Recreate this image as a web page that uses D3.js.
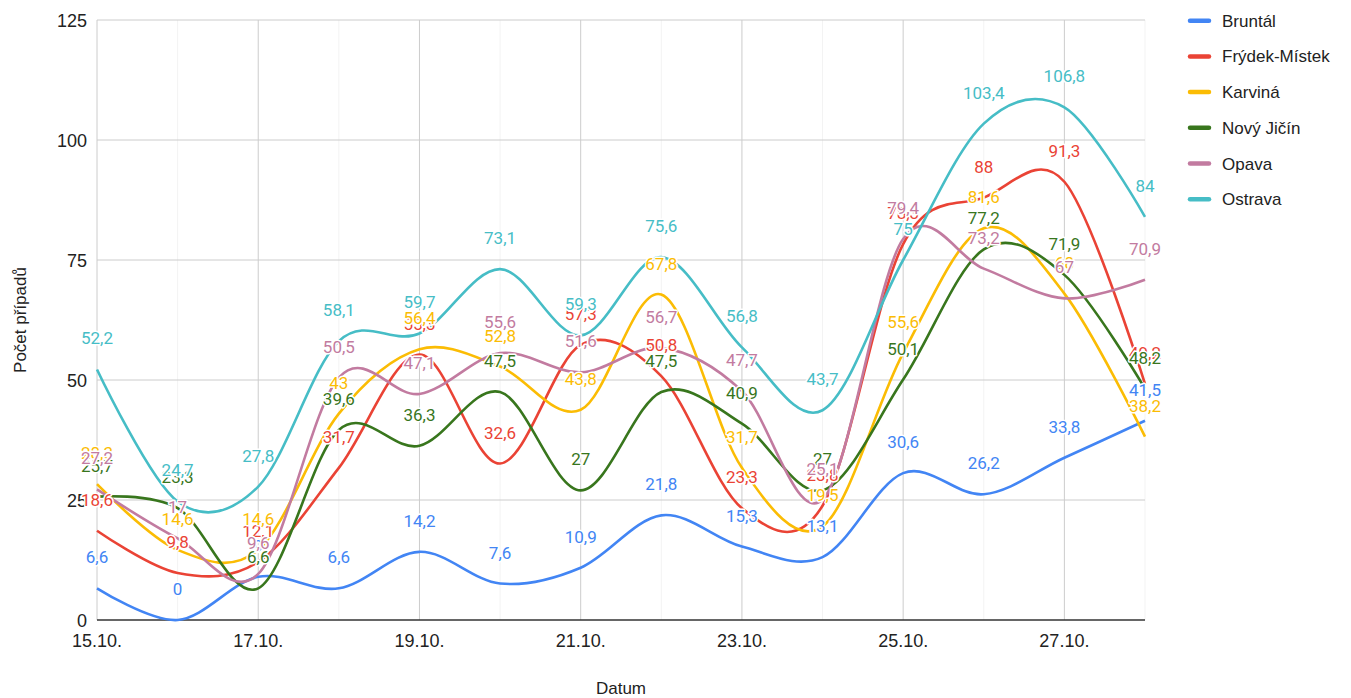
<!DOCTYPE html>
<html lang="cs">
<head>
  <meta charset="UTF-8" />
  <title>Počet případů podle okresů</title>
  <script src="https://d3js.org/d3.v7.min.js"></script>
  <style>
    body {
      margin: 0;
      background-color: #fff;
    }

    svg {
      display: block;
    }

    .axis-text {
      font-family: "Liberation Sans", Arial, sans-serif;
      fill: #222;
    }

    .value-label {
      font-family: Roboto, "Noto Sans", sans-serif;
      font-size: 17px;
      text-anchor: middle;
      stroke: #fff;
      stroke-width: 3px;
      stroke-linejoin: round;
      paint-order: stroke;
    }
  </style>
</head>
<body>

<svg id="chart" width="1351" height="698"></svg>

<script>
  // data
  const dates = ["15.10.", "16.10.", "17.10.", "18.10.", "19.10.", "20.10.", "21.10.",
                 "22.10.", "23.10.", "24.10.", "25.10.", "26.10.", "27.10.", "28.10."];

  const bruntal  = [6.6, 0, 9, 6.6, 14.2, 7.6, 10.9, 21.8, 15.3, 13.1, 30.6, 26.2, 33.8, 41.5];
  const frydek   = [18.6, 9.8, 12.1, 31.7, 55.3, 32.6, 57.3, 50.8, 23.3, 23.8, 78.3, 88, 91.3, 49.2];
  const karvina  = [28.3, 14.6, 14.6, 43, 56.4, 52.8, 43.8, 67.8, 31.7, 19.5, 55.6, 81.6, 68, 38.2];
  const novyJicin = [25.7, 23.3, 6.6, 39.6, 36.3, 47.5, 27, 47.5, 40.9, 27, 50.1, 77.2, 71.9, 48.2];
  const opava    = [27.2, 17, 9.6, 50.5, 47.1, 55.6, 51.6, 56.7, 47.7, 25.1, 79.4, 73.2, 67, 70.9];
  const ostrava  = [52.2, 24.7, 27.8, 58.1, 59.7, 73.1, 59.3, 75.6, 56.8, 43.7, 75, 103.4, 106.8, 84];

  const seriesNames = ["Bruntál", "Frýdek-Místek", "Karviná", "Nový Jičín", "Opava", "Ostrava"];
  const seriesColors = ["#4285f4", "#ea4335", "#fbbc04", "#38761d", "#c27ba0", "#46bdc6"];
  const seriesValues = [bruntal, frydek, karvina, novyJicin, opava, ostrava];

  const yTicks = [0, 25, 50, 75, 100, 125];

  const svg = d3.select("#chart");

  const margin = { left: 97, right: 1145, top: 20, bottom: 620 };

  const x = d3.scalePoint()
    .domain(dates)
    .range([margin.left, margin.right]);

  const y = d3.scaleLinear()
    .domain([0, 125])
    .range([margin.bottom, margin.top]);

  const series = seriesNames.map((name, i) => ({
    name: name,
    color: seriesColors[i],
    values: seriesValues[i].map((v, j) => ({ date: dates[j], value: v }))
  }));

  const fmt = v => String(v).replace(".", ",");

  // grid
  const grid = svg.append("g").attr("class", "grid");

  grid.selectAll("line.minor")
    .data(dates.filter((d, i) => i % 2 === 1))
    .enter().append("line")
    .attr("class", "minor")
    .attr("x1", d => x(d)).attr("x2", d => x(d))
    .attr("y1", margin.top).attr("y2", margin.bottom)
    .style("stroke", "#f3f3f3")
    .style("stroke-width", 1);

  grid.selectAll("line.major")
    .data(dates.filter((d, i) => i % 2 === 0))
    .enter().append("line")
    .attr("class", "major")
    .attr("x1", d => x(d)).attr("x2", d => x(d))
    .attr("y1", margin.top).attr("y2", margin.bottom)
    .style("stroke", "#cccccc")
    .style("stroke-width", 1);

  grid.selectAll("line.h")
    .data(yTicks.filter(t => t > 0))
    .enter().append("line")
    .attr("class", "h")
    .attr("x1", margin.left).attr("x2", margin.right)
    .attr("y1", d => y(d)).attr("y2", d => y(d))
    .style("stroke", "#cccccc")
    .style("stroke-width", 1);

  // baseline
  svg.append("line")
    .attr("x1", margin.left).attr("x2", margin.right)
    .attr("y1", y(0)).attr("y2", y(0))
    .style("stroke", "#333")
    .style("stroke-width", 1.5);

  // y tick labels
  svg.append("g")
    .selectAll("text")
    .data(yTicks)
    .enter().append("text")
    .attr("class", "axis-text")
    .attr("x", margin.left - 10)
    .attr("y", d => y(d) + 6.5)
    .attr("text-anchor", "end")
    .style("font-size", "18px")
    .text(d => d);

  // x tick labels
  svg.append("g")
    .selectAll("text")
    .data(dates.filter((d, i) => i % 2 === 0))
    .enter().append("text")
    .attr("class", "axis-text")
    .attr("x", d => x(d))
    .attr("y", 647)
    .attr("text-anchor", "middle")
    .style("font-size", "18px")
    .text(d => d);

  // axis titles
  svg.append("text")
    .attr("class", "axis-text")
    .attr("x", (margin.left + margin.right) / 2)
    .attr("y", 694)
    .attr("text-anchor", "middle")
    .style("font-size", "17px")
    .text("Datum");

  svg.append("text")
    .attr("class", "axis-text")
    .attr("transform", "translate(26," + (margin.top + margin.bottom) / 2 + ") rotate(-90)")
    .attr("text-anchor", "middle")
    .style("font-size", "17px")
    .text("Počet případů");

  // lines
  const line = d3.line()
    .x(d => x(d.date))
    .y(d => y(d.value))
    .curve(d3.curveCardinal.tension(0));

  svg.append("g")
    .selectAll("path")
    .data(series)
    .enter().append("path")
    .attr("d", d => line(d.values))
    .style("fill", "none")
    .style("stroke", d => d.color)
    .style("stroke-width", 2.6);

  // value labels, later series drawn on top
  series.forEach(s => {
    svg.append("g")
      .selectAll("text")
      .data(s.values)
      .enter().append("text")
      .attr("class", "value-label")
      .attr("x", d => x(d.date))
      .attr("y", d => y(d.value) - 25)
      .style("fill", s.color)
      .text(d => fmt(d.value));
  });

  // legend
  const legend = svg.append("g")
    .selectAll("g")
    .data(series)
    .enter().append("g")
    .attr("transform", (d, i) => "translate(1190," + (20.7 + i * 35.7) + ")");

  legend.append("line")
    .attr("x1", 0).attr("x2", 19)
    .attr("y1", 0).attr("y2", 0)
    .style("stroke", d => d.color)
    .style("stroke-width", 4.5)
    .style("stroke-linecap", "round");

  legend.append("text")
    .attr("class", "axis-text")
    .attr("x", 32)
    .attr("y", 6)
    .style("font-size", "17px")
    .text(d => d.name);
</script>

</body>
</html>
